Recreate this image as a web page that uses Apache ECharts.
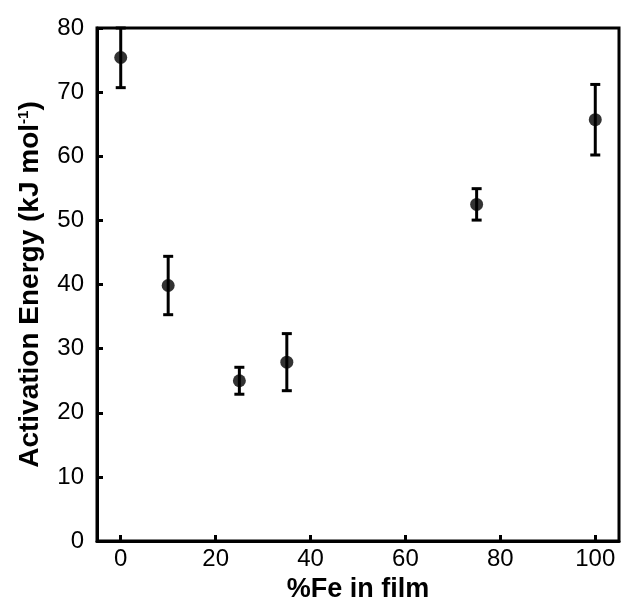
<!DOCTYPE html>
<html><head><meta charset="utf-8">
<script src="https://cdn.jsdelivr.net/npm/echarts@6/dist/echarts.min.js"></script>
<style>html,body{margin:0;padding:0;background:#fff}#c{width:621px;height:608px}</style>
</head><body><div id="c"></div>
<script>
const feFraction = [0, 10, 25, 35, 75, 100];
const activationEnergy = [75.4, 39.85, 25.0, 27.9, 52.5, 65.7];
const errorValues = [4.7, 4.55, 2.1, 4.45, 2.45, 5.5];
const xTicks = [0, 20, 40, 60, 80, 100];
const yTicks = [0, 10, 20, 30, 40, 50, 60, 70, 80];

const pts = feFraction.map((x, i) => [x, activationEnergy[i]]);
const errs = feFraction.map((x, i) => [x, activationEnergy[i] - errorValues[i], Math.min(80, activationEnergy[i] + errorValues[i])]);
const font = 'Liberation Sans, Arial, sans-serif';
const chart = echarts.init(document.getElementById('c'));
chart.setOption({
  animation: false,
  backgroundColor: '#fff',
  grid: { left: 97, right: 2, top: 28, bottom: 54, show: true, borderColor: '#000', borderWidth: 3 },
  xAxis: {
    type: 'value', min: -5, max: 105, interval: 20,
    splitLine: { show: false },
    axisLine: { onZero: false, lineStyle: { color: '#000', width: 3 } },
    axisTick: { inside: true, length: 6, lineStyle: { color: '#000', width: 3 }, customValues: xTicks },
    axisLabel: { color: '#000', fontSize: 24, fontFamily: font, margin: 6, customValues: xTicks },
    name: '%Fe in film', nameLocation: 'middle', nameGap: 30,
    nameTextStyle: { color: '#000', fontSize: 27, fontWeight: 'bold', fontFamily: font }
  },
  yAxis: {
    type: 'value', min: 0, max: 80, interval: 10,
    splitLine: { show: false },
    axisLine: { onZero: false, lineStyle: { color: '#000', width: 3 } },
    axisTick: { inside: true, length: 6, lineStyle: { color: '#000', width: 3 } },
    axisLabel: { color: '#000', fontSize: 24, fontFamily: font, margin: 13 },
    name: 'Activation Energy (kJ mol{sup|-1})', nameLocation: 'middle', nameGap: 53, nameRotate: 90,
    nameTextStyle: { color: '#000', fontSize: 28, fontWeight: 'bold', fontFamily: font,
      rich: { sup: { fontSize: 15, fontWeight: 'bold', fontFamily: font, color: '#000', padding: [0, 0, 13, 0] } } }
  },
  series: [
    {
      type: 'custom',
      data: errs,
      renderItem: function (params, api) {
        const x = api.value(0);
        const lo = api.coord([x, api.value(1)]);
        const hi = api.coord([x, api.value(2)]);
        const hw = 5;
        const st = { stroke: '#000', lineWidth: 3 };
        return { type: 'group', children: [
          { type: 'line', shape: { x1: lo[0], y1: lo[1], x2: hi[0], y2: hi[1] }, style: st },
          { type: 'line', shape: { x1: lo[0] - hw, y1: lo[1], x2: lo[0] + hw, y2: lo[1] }, style: st },
          { type: 'line', shape: { x1: hi[0] - hw, y1: hi[1], x2: hi[0] + hw, y2: hi[1] }, style: st }
        ] };
      },
      z: 2
    },
    {
      type: 'scatter', data: pts, symbol: 'circle', symbolSize: 13,
      itemStyle: { color: '#000' }, z: 3
    }
  ]
});
</script></body></html>
